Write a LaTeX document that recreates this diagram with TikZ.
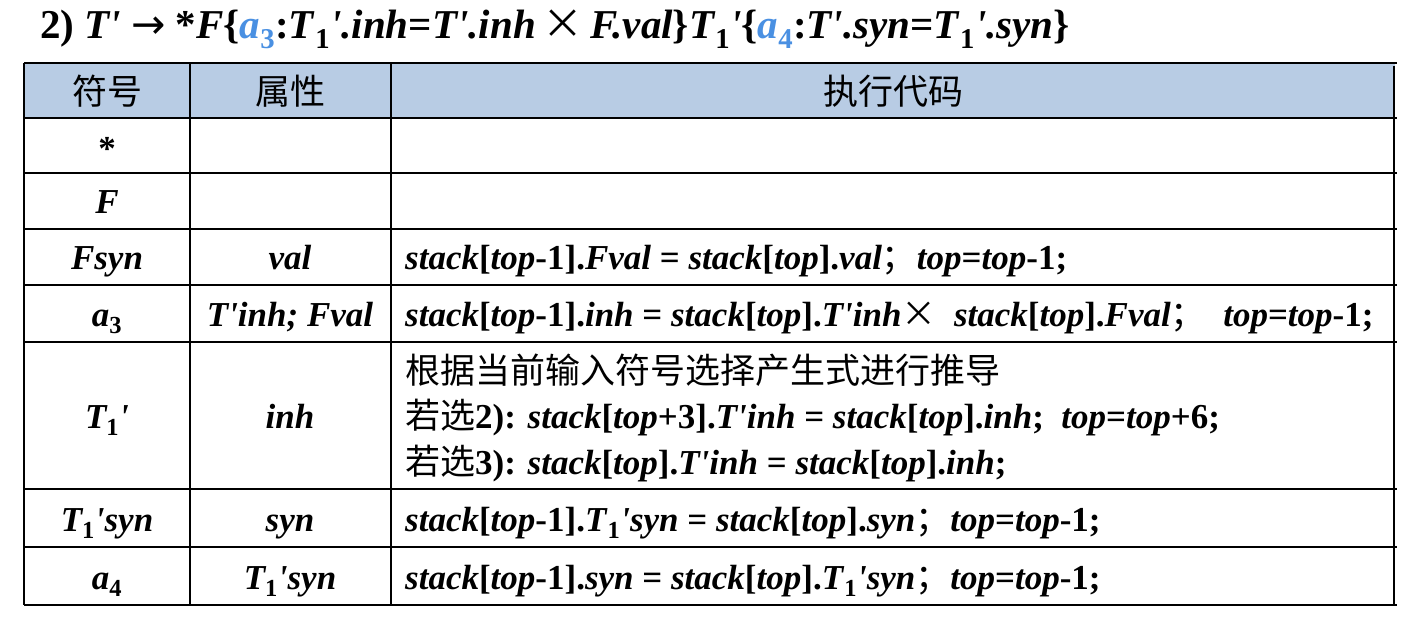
\documentclass[tikz,border=0pt]{standalone}
\usepackage{fontspec}
\setmainfont{Liberation Serif}
\newfontfamily\cjk{Noto Sans CJK SC}
\newfontfamily\symf{DejaVu Sans}
\usetikzlibrary{positioning}

\definecolor{headblue}{RGB}{184,204,228}
\definecolor{subblue}{RGB}{74,144,226}
\newcommand{\pr}{\textquotesingle}
\newcommand{\idf}[1]{\textit{#1}}
\newcommand{\sbs}[1]{\textsubscript{\textup{#1}}}
\newcommand{\zh}[1]{{\cjk\mdseries\fontsize{35}{40}\selectfont #1}}

\begin{document}
\begin{tikzpicture}[x=1pt, y=-1pt,
    title/.style={anchor=base west, inner sep=0pt, font=\fontsize{41}{45}\selectfont\bfseries},
    head/.style={anchor=center, inner sep=0pt, font=\fontsize{35}{40}\cjk},
    symbol/.style={anchor=base, inner sep=0pt, font=\fontsize{35}{40}\selectfont\bfseries\itshape},
    code/.style={anchor=base west, inner sep=0pt, font=\fontsize{35}{40}\selectfont\bfseries},
    rule/.style={line width=1.3pt},
    frame/.style={line width=2.4pt}
]
\useasboundingbox (0,0) rectangle (1426,630);

% Title
\node[title] (prod) at (40,38) {2) \idf{T\pr} {\symf\mdseries →} *\idf{F}\{\textcolor{subblue}{\idf{a}\sbs{3}}:\idf{T}\sbs{1}\idf{\pr.inh}=\idf{T\pr.inh}\,{\cjk\mdseries ×}\,\idf{F.val}\}\idf{T}\sbs{1}\idf{\pr}\{\textcolor{subblue}{\idf{a}\sbs{4}}:\idf{T\pr.syn}=\idf{T}\sbs{1}\idf{\pr.syn}\}};

% Table grid
\fill[headblue] (24,63) rectangle (1395,118);
\foreach \y in {63,118,173,229,285,342,489,547,605}
    \draw[rule] (24,\y) -- (1397,\y);
\foreach \x in {190,391}
    \draw[rule] (\x,63) -- (\x,605);
\draw[frame] (24,63) -- (24,605);
\draw[frame] (1394,66) -- (1394,605);

% Header
\node[head] (hsym) at (107,91) {符号};
\node[head] (hattr) at (290,91) {属性};
\node[head] (hcode) at (893,91) {执行代码};

% Symbols
\node[symbol] (star) at (107,160) {\textup{*}};
\node[symbol] (f) at (107,213) {F};
\node[symbol] (fsyn) at (107,269) {Fsyn};
\node[symbol] (athree) at (107,326) {a\sbs{3}};
\node[symbol] (tone) at (107,428) {T\sbs{1}\pr};
\node[symbol] (tonesyn) at (107,531) {T\sbs{1}\pr syn};
\node[symbol] (afour) at (107,589) {a\sbs{4}};

% Attributes
\node[symbol] (fval) at (290,269) {val};
\node[symbol] (inhval) at (290,326) {T\pr inh; Fval};
\node[symbol] (inh) at (290,428) {inh};
\node[symbol] (syn) at (290,531) {syn};
\node[symbol] (tsyn) at (290,589) {T\sbs{1}\pr syn};

% Code
\node[code] (cfsyn) at (405,269) {\idf{stack}[\idf{top}-1].\idf{Fval} = \idf{stack}[\idf{top}].\idf{val}\zh{；}\idf{top}=\idf{top}-1;};
\node[code] (cathree) at (405,326) {\idf{stack}[\idf{top}-1].\idf{inh} = \idf{stack}[\idf{top}].\idf{T\pr inh}\zh{×}\ \ \idf{stack}[\idf{top}].\idf{Fval}\zh{；}\ \ \idf{top}=\idf{top}-1;};
\node[code] (ctonea) at (405,383) {\zh{根据当前输入符号选择产生式进行推导}};
\node[code] (ctoneb) at (405,428) {\zh{若选}2): \idf{stack}[\idf{top}+3].\idf{T\pr inh} = \idf{stack}[\idf{top}].\idf{inh};\ \ \idf{top}=\idf{top}+6;};
\node[code] (ctonec) at (405,474) {\zh{若选}3): \idf{stack}[\idf{top}].\idf{T\pr inh} = \idf{stack}[\idf{top}].\idf{inh};};
\node[code] (ctonesyn) at (405,531) {\idf{stack}[\idf{top}-1].\idf{T}\sbs{1}\idf{\pr syn} = \idf{stack}[\idf{top}].\idf{syn}\zh{；}\idf{top}=\idf{top}-1;};
\node[code] (cafour) at (405,589) {\idf{stack}[\idf{top}-1].\idf{syn} = \idf{stack}[\idf{top}].\idf{T}\sbs{1}\idf{\pr syn}\zh{；}\idf{top}=\idf{top}-1;};

\end{tikzpicture}
\end{document}
